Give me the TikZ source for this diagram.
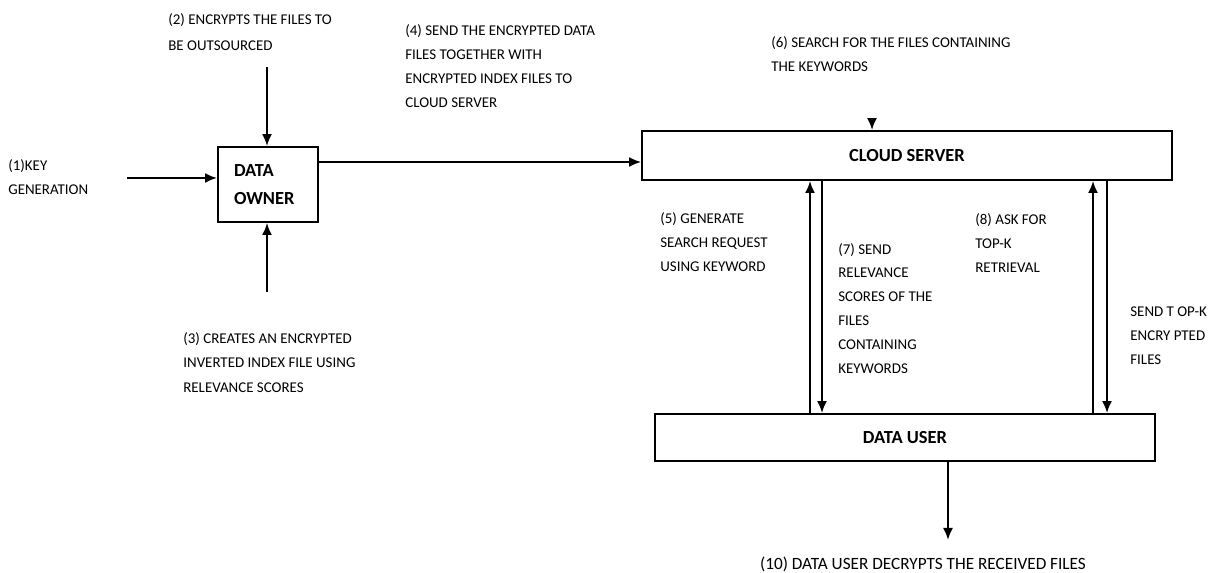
\documentclass[tikz,border=0pt]{standalone}
\usepackage{fontspec}
\setmainfont{Carlito}
\usetikzlibrary{arrows.meta}
\begin{document}
\begin{tikzpicture}[x=0.02cm,y=-0.02cm,
  lbl/.style={anchor=base west,align=left,inner sep=0pt,font=\fontsize{8.5}{13.6}\selectfont},
  blk/.style={draw,line width=1.1pt,inner sep=0pt,font=\fontsize{10.5}{16.4}\selectfont\bfseries},
  arr/.style={line width=1.1pt,-{Latex[length=0.24cm,width=0.2cm]}}]
\useasboundingbox (0,0) rectangle (1208,573);
% boxes
\node[blk,align=left,inner xsep=0.32cm,text width=1.36cm,minimum height=1.5cm] (owner) at (268,184.5) {DATA\\OWNER};
\node[blk,minimum width=10.6cm,minimum height=0.98cm] (cloud) at (907,155.5) {CLOUD SERVER};
\node[blk,minimum width=10cm,minimum height=0.94cm] (user) at (905,437.5) {DATA USER};
% labels (placed at the baseline of their last line)
\node[lbl] (keygen) at (8,194.5) {(1)KEY\\GENERATION};
\node[lbl,font=\fontsize{8.5}{15}\selectfont] (encrypt) at (168,50.5) {(2) ENCRYPTS THE FILES TO\\BE OUTSOURCED};
\node[lbl,font=\fontsize{8.5}{14}\selectfont] (index) at (183,392.5) {(3) CREATES AN ENCRYPTED\\INVERTED INDEX FILE USING\\RELEVANCE SCORES};
\node[lbl] (send) at (405,107.5) {(4) SEND THE ENCRYPTED DATA\\FILES TOGETHER WITH\\ENCRYPTED INDEX FILES TO\\CLOUD SERVER};
\node[lbl] (request) at (660,271.5) {(5) GENERATE\\SEARCH REQUEST\\USING KEYWORD};
\node[lbl] (search) at (771,71.5) {(6) SEARCH FOR THE FILES CONTAINING\\THE KEYWORDS};
\node[lbl] (scores) at (838,373.5) {(7) SEND\\RELEVANCE\\SCORES OF THE\\FILES\\CONTAINING\\KEYWORDS};
\node[lbl] (ask) at (975,272.5) {(8) ASK FOR\\TOP-K\\RETRIEVAL};
\node[lbl] (topk) at (1130,364.5) {SEND T OP-K\\ENCRY PTED\\FILES};
\node[lbl,anchor=base,font=\fontsize{9.8}{12}\selectfont] (decrypt) at (923,570) {(10) DATA USER DECRYPTS THE RECEIVED FILES};
% free ends
\coordinate (keyin) at (127,178);
\coordinate (encin) at (267,67);
\coordinate (idxin) at (267,292);
\coordinate (srchin) at (872,118);
\coordinate (decout) at (948,540);
% connectors
\draw[arr] (keyin) -- (keyin -| owner.west);
\draw[arr] (encin) -- (encin |- owner.north);
\draw[arr] (idxin) -- (idxin |- owner.south);
\draw[arr] ([yshift=0.45cm]owner.east) -- ([yshift=0.45cm]owner.east -| cloud.west);
\draw[arr] (srchin) -- (srchin |- cloud.north);
\foreach \xu/\xd in {810/822,1093/1107}{
  \draw[arr] (user.north -| \xu,0) -- (cloud.south -| \xu,0);
  \draw[arr] (cloud.south -| \xd,0) -- (user.north -| \xd,0);
}
\draw[arr] (user.south -| decout) -- (decout);
\end{tikzpicture}
\end{document}
